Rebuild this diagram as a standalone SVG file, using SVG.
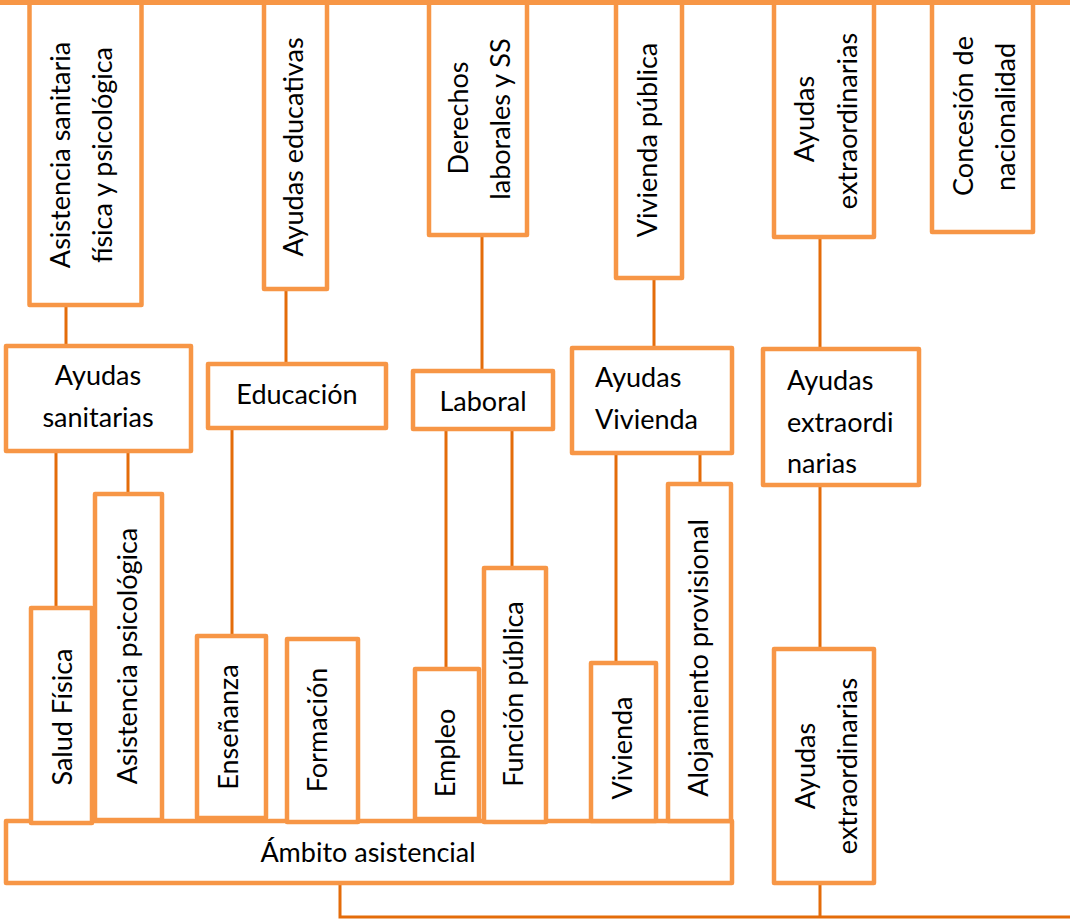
<svg xmlns="http://www.w3.org/2000/svg" width="1070" height="923" viewBox="0 0 1070 923">
<style>
.box{fill:#fff;stroke:#F79646;stroke-width:4.5;stroke-linejoin:round}
.conn{stroke:#E46C0A;stroke-width:3;fill:none}
text{font-family:Lato,"Liberation Sans",sans-serif;font-size:27px;fill:#000}
.m{text-anchor:middle}
</style>
<rect width="1070" height="923" fill="#fff"/>
<g id="connectors">
<path class="conn" d="M66 305V346M286 289V364M482 235V371M654 278V348M820 239V349M56 453V608M128 453V494M232 430V636M446 431V669M512 431V568M616 455V663M700 455V484M820 487V649M340 885V917H1070M820 885V917"/>
</g>
<g id="n-asistencia-top"><rect class="box" x="29.5" y="0" width="112" height="305"/>
<text class="m" transform="translate(70,155) rotate(-90)">Asistencia sanitaria</text>
<text class="m" transform="translate(112,155) rotate(-90)">física y psicológica</text></g>
<g id="n-ayudas-educativas"><rect class="box" x="264" y="0" width="63" height="289"/>
<text class="m" transform="translate(303,147) rotate(-90)">Ayudas educativas</text></g>
<g id="n-derechos"><rect class="box" x="429" y="0" width="98" height="235"/>
<text class="m" transform="translate(468,118) rotate(-90)">Derechos</text>
<text class="m" transform="translate(510,119) rotate(-90)">laborales y SS</text></g>
<g id="n-vivienda-publica"><rect class="box" x="616" y="0" width="66" height="278"/>
<text class="m" transform="translate(657,140) rotate(-90)">Vivienda pública</text></g>
<g id="n-extra-top"><rect class="box" x="774" y="0" width="100" height="237"/>
<text class="m" transform="translate(814,119) rotate(-90)">Ayudas</text>
<text class="m" transform="translate(857,121) rotate(-90)">extraordinarias</text></g>
<g id="n-concesion"><rect class="box" x="932" y="0" width="101" height="232"/>
<text class="m" transform="translate(973,116) rotate(-90)">Concesión de</text>
<text class="m" transform="translate(1015,117) rotate(-90)">nacionalidad</text></g>
<g id="topline"><path d="M0 2.5H1070" stroke="#F79646" stroke-width="5"/></g>
<g id="n-ayudas-sanitarias"><rect class="box" x="6" y="346" width="185" height="105"/>
<text class="m" x="98" y="385">Ayudas</text><text class="m" x="98" y="427">sanitarias</text></g>
<g id="n-educacion"><rect class="box" x="208" y="364" width="178" height="64"/>
<text class="m" x="297" y="404">Educación</text></g>
<g id="n-laboral"><rect class="box" x="413" y="371" width="140" height="58"/>
<text class="m" x="483" y="411">Laboral</text></g>
<g id="n-ayudas-vivienda"><rect class="box" x="572" y="348" width="160" height="105"/>
<text x="595" y="387">Ayudas</text><text x="595" y="429">Vivienda</text></g>
<g id="n-extra-mid"><rect class="box" x="763" y="349" width="156" height="136"/>
<text x="787" y="390">Ayudas</text><text x="787" y="432">extraordi</text><text x="787" y="473">narias</text></g>
<g id="n-ambito"><rect class="box" x="6" y="821" width="726" height="62"/>
<text class="m" x="368" y="862">Ámbito asistencial</text></g>
<g id="n-salud"><rect class="box" x="31" y="608" width="61" height="215"/>
<text class="m" transform="translate(72,717) rotate(-90)">Salud Física</text></g>
<g id="n-asist-psico"><rect class="box" x="95" y="494" width="67" height="326"/>
<text class="m" transform="translate(137,656) rotate(-90)">Asistencia psicológica</text></g>
<g id="n-ensenanza"><rect class="box" x="197" y="636" width="69" height="182"/>
<text class="m" transform="translate(238,727) rotate(-90)">Enseñanza</text></g>
<g id="n-formacion"><rect class="box" x="287" y="639" width="71" height="183"/>
<text class="m" transform="translate(327,730) rotate(-90)">Formación</text></g>
<g id="n-empleo"><rect class="box" x="415" y="669" width="64" height="150"/>
<text class="m" transform="translate(455,753) rotate(-90)">Empleo</text></g>
<g id="n-funcion"><rect class="box" x="484" y="568" width="62" height="254"/>
<text class="m" transform="translate(523,694) rotate(-90)">Función pública</text></g>
<g id="n-vivienda"><rect class="box" x="591" y="663" width="65" height="158"/>
<text class="m" transform="translate(632,748) rotate(-90)">Vivienda</text></g>
<g id="n-alojamiento"><rect class="box" x="668" y="484" width="63" height="337"/>
<text class="m" transform="translate(708,658) rotate(-90)">Alojamiento provisional</text></g>
<g id="n-extra-low"><rect class="box" x="774" y="649" width="100" height="234"/>
<text class="m" transform="translate(815,766) rotate(-90)">Ayudas</text>
<text class="m" transform="translate(857,766) rotate(-90)">extraordinarias</text></g>
</svg>
